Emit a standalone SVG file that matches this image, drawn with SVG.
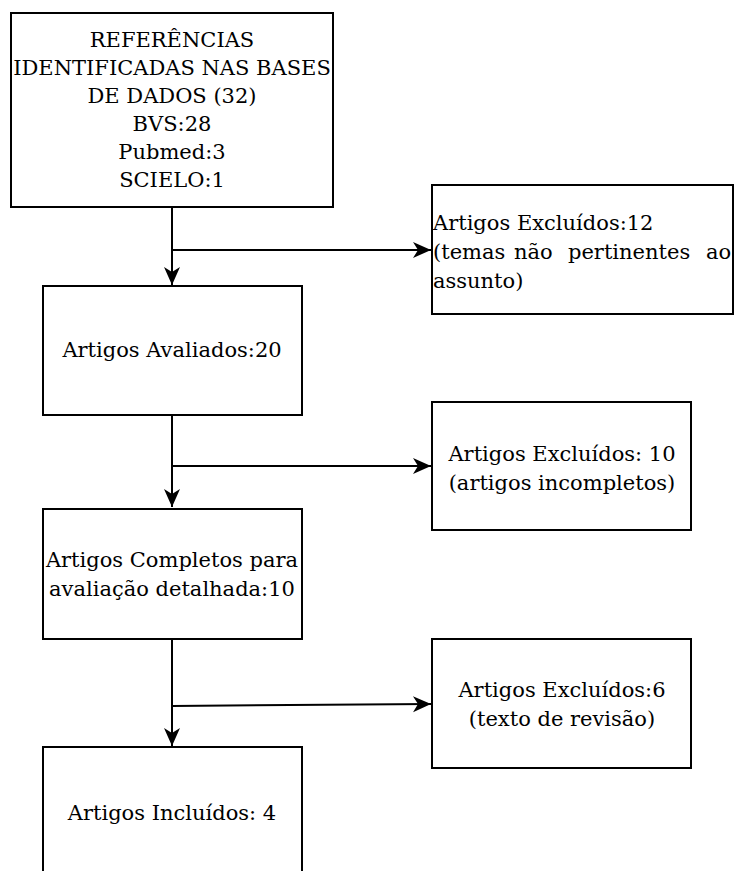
<svg xmlns="http://www.w3.org/2000/svg" width="734" height="871" viewBox="0 0 734 871">
  <style>
    .box { fill: #ffffff; stroke: #000000; stroke-width: 2; }
    .lbl { font-family: "DejaVu Serif", "Liberation Serif", serif; font-size: 21px; fill: #000000; }
    .mid { text-anchor: middle; }
    .edge { fill: none; stroke: #000000; stroke-width: 2; }
  </style>
  <defs>
    <marker id="arrow" markerUnits="userSpaceOnUse" viewBox="-19 -9 20 18" refX="0" refY="0" markerWidth="20" markerHeight="18" orient="auto">
      <path d="M0,0 L-18,-8 L-13,0 L-18,8 Z" fill="#000000"/>
    </marker>
  </defs>

  <!-- flow connectors -->
  <g id="connectors">
    <path class="edge" d="M172,207 L172,285" marker-end="url(#arrow)"/>
    <path class="edge" d="M172,250 L431,250" marker-end="url(#arrow)"/>
    <path class="edge" d="M172,415 L172,507" marker-end="url(#arrow)"/>
    <path class="edge" d="M172,466 L431,466" marker-end="url(#arrow)"/>
    <path class="edge" d="M172,639 L172,746" marker-end="url(#arrow)"/>
    <path class="edge" d="M172,706 L431,704" marker-end="url(#arrow)"/>
  </g>

  <g id="references">
    <rect class="box" x="11" y="13" width="322" height="194"/>
    <text class="lbl mid" x="172" y="47">REFERÊNCIAS</text>
    <text class="lbl mid" x="172" y="75">IDENTIFICADAS NAS BASES</text>
    <text class="lbl mid" x="172" y="103">DE DADOS (32)</text>
    <text class="lbl mid" x="172" y="131">BVS:28</text>
    <text class="lbl mid" x="172" y="159">Pubmed:3</text>
    <text class="lbl mid" x="172" y="187">SCIELO:1</text>
  </g>

  <g id="excluded-12">
    <rect class="box" x="432" y="185" width="301" height="129"/>
    <text class="lbl" x="433" y="230">Artigos Excluídos:12</text>
    <text class="lbl" y="259"><tspan x="433">(temas</tspan><tspan x="514">não</tspan><tspan x="568">pertinentes</tspan><tspan x="706">ao</tspan></text>
    <text class="lbl" x="433" y="288">assunto)</text>
  </g>

  <g id="evaluated">
    <rect class="box" x="43" y="286" width="259" height="129"/>
    <text class="lbl mid" x="172" y="357">Artigos Avaliados:20</text>
  </g>

  <g id="excluded-10">
    <rect class="box" x="432" y="402" width="259" height="128"/>
    <text class="lbl mid" x="562" y="461">Artigos Excluídos: 10</text>
    <text class="lbl mid" x="562" y="490">(artigos incompletos)</text>
  </g>

  <g id="full-text">
    <rect class="box" x="43" y="509" width="259" height="130"/>
    <text class="lbl mid" x="172" y="567">Artigos Completos para</text>
    <text class="lbl mid" x="172" y="596">avaliação detalhada:10</text>
  </g>

  <g id="excluded-6">
    <rect class="box" x="432" y="639" width="259" height="129"/>
    <text class="lbl mid" x="562" y="697">Artigos Excluídos:6</text>
    <text class="lbl mid" x="562" y="726">(texto de revisão)</text>
  </g>

  <g id="included">
    <rect class="box" x="43" y="747" width="259" height="130"/>
    <text class="lbl mid" x="172" y="820">Artigos Incluídos: 4</text>
  </g>
</svg>
